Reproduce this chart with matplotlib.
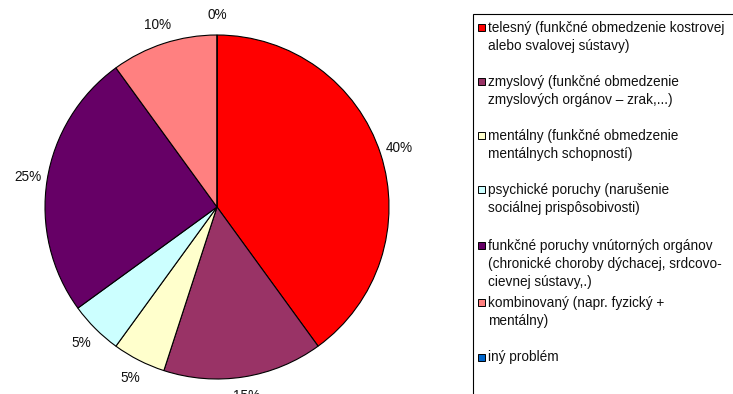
import numpy as np
import matplotlib
matplotlib.use("Agg")
import matplotlib.pyplot as plt
from matplotlib.patches import Rectangle

plt.rcParams['font.family'] = ['Liberation Sans', 'DejaVu Sans']

# podiel jednotlivych druhov zdravotneho postihnutia (%)
categories = [
    "telesný (funkčné obmedzenie kostrovej\nalebo svalovej sústavy)",
    "zmyslový (funkčné obmedzenie\nzmyslových orgánov – zrak,...)",
    "mentálny (funkčné obmedzenie\nmentálnych schopností)",
    "psychické poruchy (narušenie\nsociálnej prispôsobivosti)",
    "funkčné poruchy vnútorných orgánov\n(chronické choroby dýchacej, srdcovo-\ncievnej sústavy,.)",
    "kombinovaný (napr. fyzický +\nmentálny)",
    "iný problém",
]
values = [40, 15, 5, 5, 25, 10, 0]
colors = ["#FF0000", "#993366", "#FFFFCC", "#CCFFFF", "#660066", "#FF8080", "#0066CC"]

W, H = 733, 394
fig = plt.figure(figsize=(W / 100, H / 100), dpi=100)
ax = fig.add_axes([0, 0, 1, 1])

cx, cy, r = 217, H - 207, 172

wedges, texts = ax.pie(values, colors=colors, startangle=90, counterclock=False,
                       center=(cx, cy), radius=r,
                       labels=[f"{v}%" for v in values], labeldistance=1.115,
                       wedgeprops=dict(edgecolor="black", linewidth=0.8),
                       textprops=dict(fontsize=9.8, color="#111111"))
for t in texts:
    t.set_horizontalalignment("center")
    t.set_verticalalignment("center")

ax.set_xlim(0, W)
ax.set_ylim(0, H)
ax.set_aspect("equal")
ax.axis("off")

# legenda - ramik ide az za okraj obrazka
ax.add_patch(Rectangle((473, -20), 300, H - 14 + 20, facecolor="none",
                       edgecolor="black", linewidth=0.8, clip_on=False))

row_y = [27, 81, 135, 189, 245, 302, 357]
for i, (lab, col) in enumerate(zip(categories, colors)):
    y = H - row_y[i]
    ax.add_patch(Rectangle((478, y - 3.5), 7, 7, facecolor=col,
                           edgecolor="black", linewidth=0.7))
    ax.text(488, y + 6.5, lab, fontsize=9.8, va="top", ha="left",
            linespacing=1.38, color="#111111")

fig.savefig("out.png", dpi=100)
